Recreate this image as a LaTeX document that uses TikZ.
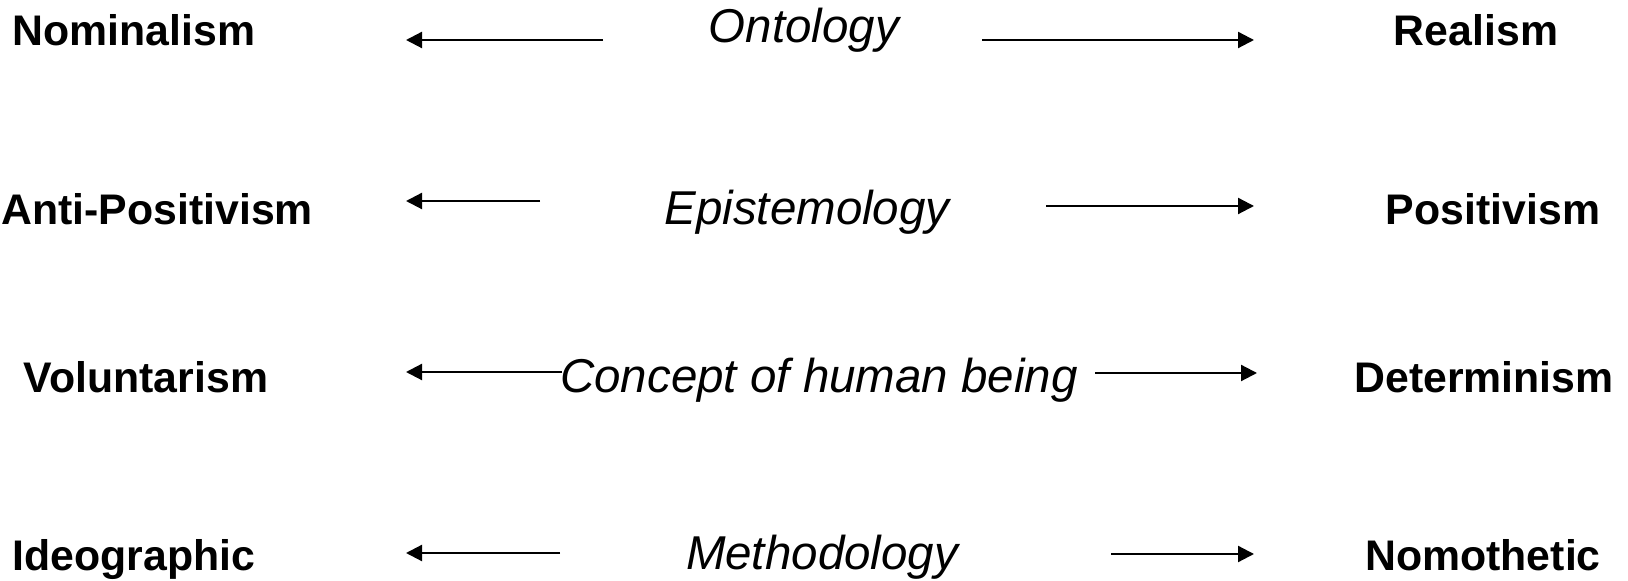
\documentclass[tikz,border=0pt]{standalone}
\usepackage{fontspec}
\setmainfont{Liberation Sans}
\usetikzlibrary{arrows.meta}

\tikzset{
  pole/.style={anchor=base, inner sep=0pt,
    font=\fontsize{21.4}{25}\selectfont\bfseries},
  axis/.style={anchor=base, inner sep=0pt,
    font=\fontsize{23.75}{28}\selectfont\itshape},
  arr/.style={line width=1.1pt, -{Triangle[length=8pt,width=8pt]}},
}

\begin{document}
\begin{tikzpicture}[x=0.5pt,y=-0.5pt]
  \useasboundingbox (0,0) rectangle (1628,581);

  \newcommand\Lt{406}  %% left tips
  \newcommand\Rt{1254} %% right tips

  %% row 1
  \node[pole] (nom) at (134,46) {Nominalism};
  \node[axis] (ont) at (804,43) {Ontology};
  \node[pole] (rea) at (1476,46) {Realism};
  \coordinate (ontL) at (603,40);
  \coordinate (ontR) at (982,40);
  \coordinate (nomA) at (\Lt,40);
  \coordinate (reaA) at (\Rt,40);
  \draw[arr] (ontL) -- (nomA);
  \draw[arr] (ontR) -- (reaA);

  %% row 2
  \node[pole, anchor=base west] (apos) at (1,225) {Anti-Positivism};
  \node[axis] (epi) at (807,225) {Epistemology};
  \node[pole] (pos) at (1493,225) {Positivism};
  \coordinate (epiL) at (540,201);
  \coordinate (epiR) at (1046,206);
  \coordinate (aposA) at (\Lt,201);
  \coordinate (posA) at (\Rt,206);
  \draw[arr] (epiL) -- (aposA);
  \draw[arr] (epiR) -- (posA);

  %% row 3
  \node[pole] (vol) at (146,393) {Voluntarism};
  \node[axis] (con) at (819,393) {Concept of human being};
  \node[pole] (det) at (1484,393) {Determinism};
  \coordinate (conL) at (562,372);
  \coordinate (conR) at (1095,373);
  \coordinate (volA) at (\Lt,372);
  \coordinate (detA) at (1257,373);
  \draw[arr] (conL) -- (volA);
  \draw[arr] (conR) -- (detA);

  %% row 4
  \node[pole] (ide) at (134,571) {Ideographic};
  \node[axis] (met) at (822,570) {Methodology};
  \node[pole] (nmt) at (1483,571) {Nomothetic};
  \coordinate (metL) at (560,553);
  \coordinate (metR) at (1111,554);
  \coordinate (ideA) at (\Lt,553);
  \coordinate (nmtA) at (\Rt,554);
  \draw[arr] (metL) -- (ideA);
  \draw[arr] (metR) -- (nmtA);

\end{tikzpicture}
\end{document}
